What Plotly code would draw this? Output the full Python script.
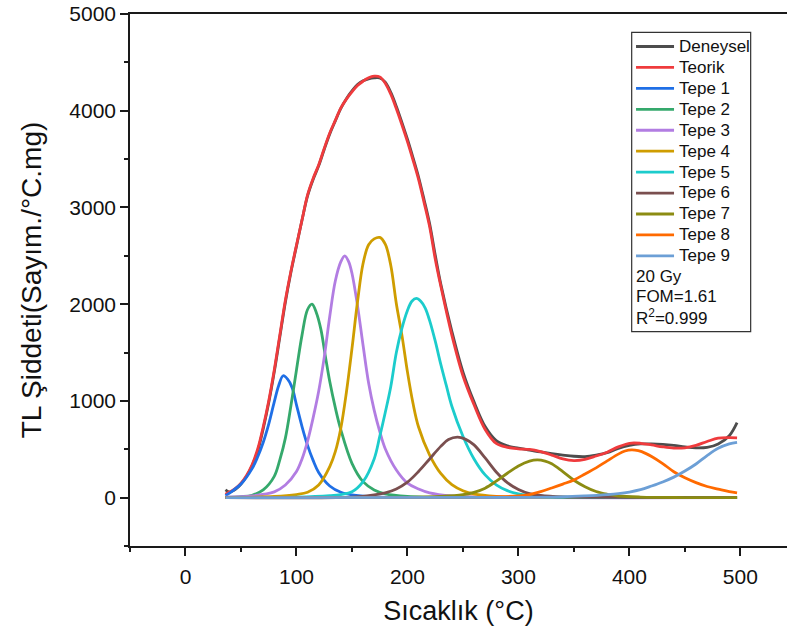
import plotly.graph_objects as go

# ---- Measured glow curve and fitted sum (°C, counts/°C.mg) ----
t_main = [36, 40, 45, 50, 55, 60, 65, 70, 75, 80,
          85, 90, 95, 100, 105, 110, 115, 120, 125, 130,
          135, 140, 145, 150, 155, 160, 165, 170, 175, 180,
          185, 190, 195, 200, 205, 210, 215, 220, 225, 230,
          240, 250, 260, 270, 280, 290, 300, 310, 320, 330,
          340, 350, 360, 370, 380, 390, 400, 410, 420, 430,
          440, 450, 460, 470, 480, 490, 497]
deneysel = [80, 58, 85, 140, 220, 330, 480, 710, 980, 1300,
            1660, 2020, 2330, 2600, 2870, 3120, 3290, 3430, 3600, 3760,
            3895, 4025, 4125, 4205, 4270, 4310, 4330, 4340, 4338, 4295,
            4190, 4045, 3880, 3705, 3515, 3315, 3080, 2830, 2510, 2210,
            1720, 1300, 990, 735, 590, 535, 512, 492, 472, 455,
            440, 428, 425, 440, 465, 510, 540, 555, 555, 550,
            540, 525, 515, 520, 555, 640, 775]
teorik = [35, 60, 95, 150, 230, 340, 500, 730, 1000, 1320,
          1680, 2040, 2340, 2610, 2870, 3130, 3300, 3440, 3610, 3770,
          3900, 4030, 4120, 4195, 4260, 4305, 4340, 4357, 4350, 4285,
          4170, 4020, 3855, 3680, 3490, 3290, 3050, 2800, 2470, 2190,
          1680, 1260, 960, 705, 560, 520, 505, 498, 475, 440,
          400, 383, 395, 430, 470, 525, 562, 562, 545, 525,
          512, 515, 540, 580, 615, 620, 618]

# ---- Deconvoluted glow peaks ----
t_tepe1 = [36, 40, 50, 60, 65, 70, 75, 80, 84, 88, 92, 96, 100, 105, 110, 115, 120, 130,
           140, 150, 170, 200, 250, 497]
tepe1 = [21, 50, 140, 300, 420, 570, 760, 990, 1160, 1260, 1225, 1140, 960, 735, 540, 385,
         260, 120, 55, 28, 8, 2, 0, 0]

t_tepe2 = [36, 50, 60, 70, 80, 85, 90, 95, 100, 105, 110, 114, 118, 122, 126, 130, 135, 140,
           150, 160, 170, 180, 200, 250, 497]
tepe2 = [2, 10, 25, 80, 220, 390, 615, 950, 1320, 1680, 1945, 2000, 1910, 1740, 1465, 1200,
         930, 700, 355, 165, 80, 40, 14, 2, 0]

t_tepe3 = [36, 60, 80, 90, 100, 105, 110, 115, 120, 125, 130, 135, 140, 143.5, 147, 150, 155,
           160, 165, 170, 175, 180, 190, 200, 210, 220, 240, 270, 497]
tepe3 = [5, 18, 60, 130, 270, 400, 585, 825, 1100, 1450, 1875, 2240, 2440, 2500, 2440, 2320,
         1985, 1575, 1185, 905, 685, 505, 285, 150, 90, 50, 18, 5, 0]

t_tepe4 = [36, 80, 100, 110, 120, 130, 135, 140, 145, 150, 155, 160, 165, 170, 175, 180, 185,
           190, 195, 200, 205, 210, 220, 230, 240, 250, 260, 280, 300, 350, 497]
tepe4 = [2, 12, 32, 55, 130, 320, 475, 720, 1090, 1540, 2025, 2420, 2615, 2675, 2690, 2620,
         2400, 2005, 1680, 1300, 975, 730, 440, 250, 135, 72, 38, 12, 5, 1, 0]

t_tepe5 = [36, 100, 130, 140, 150, 160, 170, 175, 180, 185, 190, 195, 200, 204, 208, 212,
           216, 220, 225, 230, 235, 240, 250, 260, 270, 280, 290, 300, 320, 350, 497]
tepe5 = [0, 5, 20, 32, 60, 165, 400, 630, 880, 1150, 1500, 1750, 1935, 2030, 2060, 2030,
         1960, 1830, 1620, 1380, 1160, 945, 635, 400, 235, 132, 72, 38, 12, 3, 0]

t_tepe6 = [36, 150, 170, 180, 190, 200, 210, 220, 230, 237, 245, 252, 260, 270, 280, 290,
           300, 310, 320, 340, 370, 497]
tepe6 = [0, 5, 28, 50, 90, 160, 270, 400, 530, 600, 625, 605, 545, 410, 265, 155, 85, 42,
         22, 7, 2, 0]

t_tepe7 = [36, 200, 230, 250, 260, 270, 280, 290, 300, 310, 317, 324, 330, 340, 350, 360,
           370, 380, 390, 410, 450, 497]
tepe7 = [0, 3, 12, 30, 55, 98, 170, 252, 328, 378, 390, 378, 350, 268, 180, 113, 63, 35,
         17, 6, 1, 0]

t_tepe8 = [36, 250, 280, 300, 310, 320, 330, 340, 350, 360, 370, 380, 390, 396, 402, 408,
           415, 420, 430, 440, 450, 460, 470, 480, 490, 497]
tepe8 = [0, 3, 9, 18, 32, 62, 100, 140, 183, 245, 308, 380, 450, 482, 494, 485, 455, 425,
         352, 268, 205, 155, 115, 88, 62, 48]

t_tepe9 = [36, 300, 340, 360, 380, 390, 400, 410, 420, 430, 440, 450, 460, 470, 480, 490, 497]
tepe9 = [0, 3, 8, 18, 32, 42, 58, 82, 120, 162, 212, 275, 348, 435, 510, 555, 572]

series = [
    ("Deneysel", t_main, deneysel, "#4d4d4d"),
    ("Teorik", t_main, teorik, "#ef3b3d"),
    ("Tepe 1", t_tepe1, tepe1, "#1f6fe6"),
    ("Tepe 2", t_tepe2, tepe2, "#35a96c"),
    ("Tepe 3", t_tepe3, tepe3, "#b27de2"),
    ("Tepe 4", t_tepe4, tepe4, "#cf9d00"),
    ("Tepe 5", t_tepe5, tepe5, "#1ccccc"),
    ("Tepe 6", t_tepe6, tepe6, "#7a4f4f"),
    ("Tepe 7", t_tepe7, tepe7, "#8c8c12"),
    ("Tepe 8", t_tepe8, tepe8, "#ff6a00"),
    ("Tepe 9", t_tepe9, tepe9, "#6c9fd6"),
]

info_lines = ["20 Gy", "FOM=1.61", "R<sup>2</sup>=0.999"]

FONT = "Liberation Sans, Arial, sans-serif"

fig = go.Figure()
for name, tx, vals, color in series:
    fig.add_trace(go.Scatter(
        x=tx, y=vals, mode="lines",
        name=f'<span style="font-size:17px">{name}</span>',
        line=dict(color=color, width=2.8, shape="spline", smoothing=1.0),
    ))

axis_common = dict(
    showgrid=False, zeroline=False, showline=True, linecolor="#1a1a1a", linewidth=1.6,
    ticks="outside", ticklen=8, tickwidth=1.6, tickcolor="#1a1a1a",
    tickfont=dict(family=FONT, size=21, color="#111"),
)

fig.update_layout(
    width=787, height=639,
    margin=dict(l=130, r=0, t=14, b=93),
    paper_bgcolor="white", plot_bgcolor="white",
    font=dict(family=FONT, color="#111"),
    xaxis=dict(
        range=[-50, 542], tick0=0, dtick=100, mirror=True, ticklabelstandoff=3,
        minor=dict(dtick=50, tick0=0, ticks="outside", ticklen=4, tickwidth=1.6,
                   tickcolor="#1a1a1a", showgrid=False),
        title=dict(text="Sıcaklık (°C)", font=dict(family=FONT, size=27, color="#111"),
                   standoff=14),
        **axis_common,
    ),
    yaxis=dict(
        range=[-500, 5000], tick0=0, dtick=1000, mirror=False,
        minor=dict(dtick=500, tick0=0, ticks="outside", ticklen=4, tickwidth=1.6,
                   tickcolor="#1a1a1a", showgrid=False),
        title=dict(text="TL Şiddeti(Sayım./°C.mg)",
                   font=dict(family=FONT, size=28, color="#111"), standoff=19),
        **axis_common,
    ),
    legend=dict(
        x=0.7626, y=0.968, xanchor="left", yanchor="top",
        bgcolor="rgba(0,0,0,0)", borderwidth=0, itemwidth=38,
        font=dict(family=FONT, size=13.8, color="#111"), tracegroupgap=0,
    ),
    showlegend=True,
)

# Frame around the legend and the fit information
fig.add_shape(type="rect", xref="paper", yref="paper",
              x0=0.7636, x1=0.9447, y0=0.4028, y1=0.9656,
              line=dict(color="#333", width=1.2), fillcolor="rgba(0,0,0,0)")

for text, ypos in zip(info_lines, [0.5075, 0.4699, 0.4305]):
    fig.add_annotation(text=text, xref="paper", yref="paper", x=0.767, y=ypos,
                       xanchor="left", yanchor="middle", showarrow=False,
                       font=dict(family=FONT, size=17, color="#111"))

fig.write_html("out.html")
